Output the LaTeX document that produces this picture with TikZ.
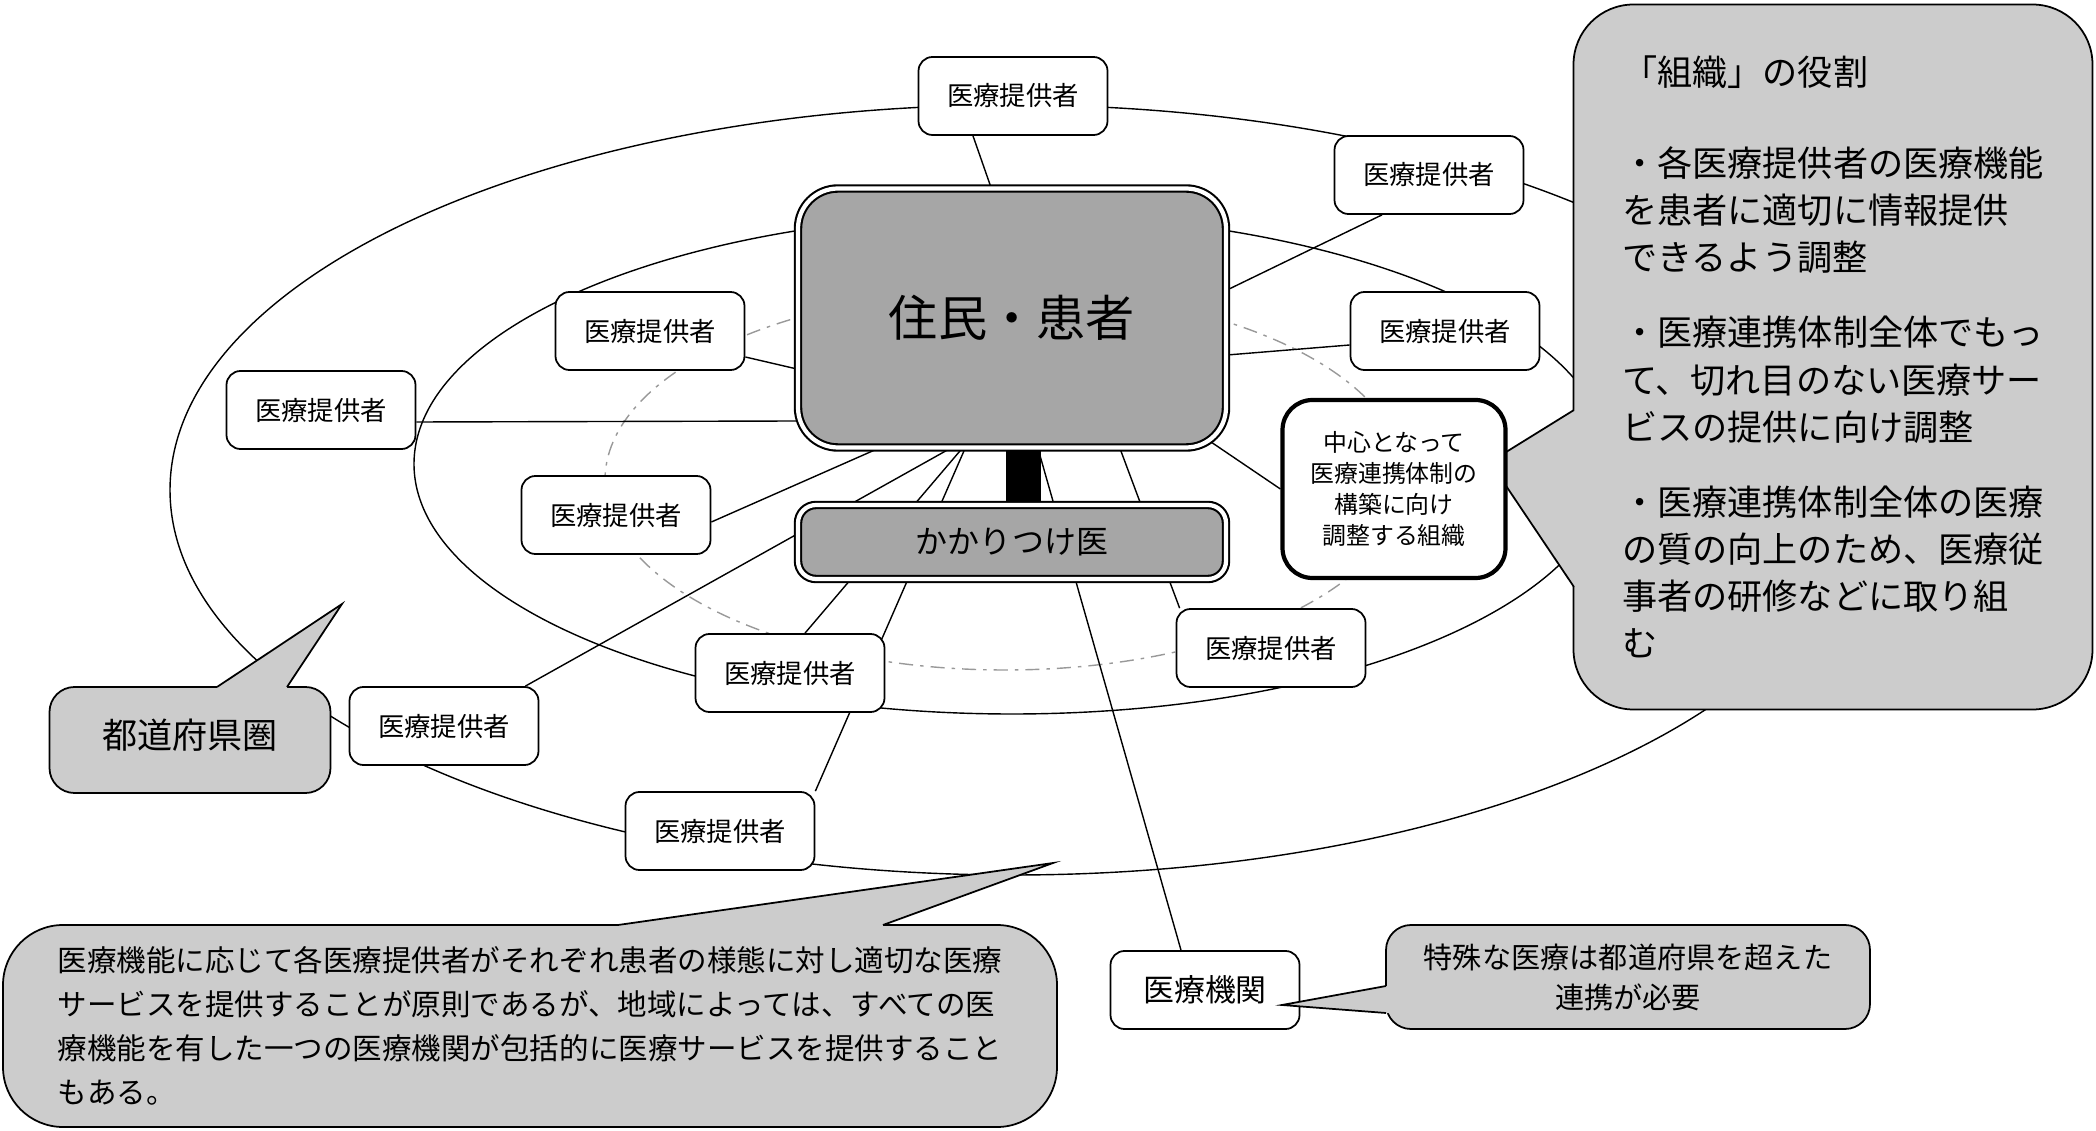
\documentclass[tikz,border=0pt]{standalone}
\usepackage{fontspec}
\setmainfont{Noto Sans CJK JP}
\usetikzlibrary{backgrounds}

\begin{document}
\begin{tikzpicture}[x=0.1mm, y=-0.1mm, line width=0.5pt,
    prov/.style={draw, fill=white, rounded corners=1.4mm, minimum width=18.9mm,
      minimum height=7.8mm, inner sep=0pt, font=\fontsize{7.5}{9}\selectfont},
    hub/.style={draw, double, double distance=1.2pt, line width=0.6pt, fill=black!35},
    org/.style={draw, fill=white, line width=1.2pt, rounded corners=3mm,
      minimum width=22.3mm, minimum height=17.8mm, align=center,
      font=\fontsize{6.8}{8.8}\selectfont},
    bubble/.style={draw, fill=black!20},
    link/.style={line width=0.4pt}]

  \useasboundingbox (0,0) rectangle (2096,1131);

  \node[bubble, rounded corners=6mm, minimum width=51.9mm, minimum height=70.5mm,
    align=left, font=\fontsize{10}{13.4}\selectfont] (R) at (1833,357)
    {「組織」の役割\\[12.5pt]・各医療提供者の医療機能\\を患者に適切に情報提供\\できるよう調整\\[8pt]%
     ・医療連携体制全体でもっ\\て、切れ目のない医療サー\\ビスの提供に向け調整\\[8pt]%
     ・医療連携体制全体の医療\\の質の向上のため、医療従\\事者の研修などに取り組\\む};
  \fill[black!20] (1574,410) -- (1490,462) -- (1574,587) -- (1590,587) -- (1590,410) -- cycle;
  \draw (1574,410) -- (1490,462) -- (1574,587);

  \node[bubble, rounded corners=2.5mm, minimum width=28.1mm, minimum height=10.6mm,
    font=\fontsize{10}{12}\selectfont] (T) at (190,740) {\raisebox{1.3mm}{都道府県圏}};
  \fill[black!20] (217,687) -- (342,604) -- (287,687) -- (287,700) -- (217,700) -- cycle;
  \draw (217,687) -- (342,604) -- (287,687);

  \node[bubble, rounded corners=6mm, minimum width=105.4mm, minimum height=20.2mm,
    align=left, font=\fontsize{8.4}{12.5}\selectfont] (B) at (530,1026)
    {医療機能に応じて各医療提供者がそれぞれ患者の様態に対し適切な医療\\%
     サービスを提供することが原則であるが、地域によっては、すべての医\\%
     療機能を有した一つの医療機関が包括的に医療サービスを提供すること\\%
     もある。};
  \fill[black!20] (618,925) -- (1053,863) -- (883,925) -- (883,940) -- (618,940) -- cycle;
  \draw (618,925) -- (1053,863) -- (883,925);

  \node[hub, rounded corners=4mm, minimum width=42.8mm, minimum height=25.9mm,
    font=\fontsize{14}{16}\selectfont] (J) at (1012,318) {住民・患者};
  \node[hub, rounded corners=1.8mm, minimum width=42.8mm, minimum height=7.4mm,
    font=\fontsize{9.1}{11}\selectfont] (K) at (1012,542) {かかりつけ医};
  \node[org] (C) at (1394,489) {中心となって\\医療連携体制の\\構築に向け\\調整する組織};

  \node[prov] (P1) at (1013,96) {医療提供者};
  \node[prov] (P2) at (1429,175) {医療提供者};
  \node[prov] (P3) at (650,331) {医療提供者};
  \node[prov] (P4) at (1445,331) {医療提供者};
  \node[prov] (P5) at (321,410) {医療提供者};
  \node[prov] (P6) at (616,515) {医療提供者};
  \node[prov] (P7) at (1271,648) {医療提供者};
  \node[prov] (P8) at (790,673) {医療提供者};
  \node[prov] (P9) at (444,726) {医療提供者};
  \node[prov] (P10) at (720,831) {医療提供者};
  \node[prov, font=\fontsize{8.8}{10}\selectfont] (M) at (1205,990) {医療機関};

  \node[bubble, rounded corners=2.5mm, minimum width=48.4mm, minimum height=10.4mm,
    align=center, font=\fontsize{8.3}{11.4}\selectfont] (S) at (1628,977)
    {特殊な医療は都道府県を超えた\\連携が必要};
  \fill[black!20] (1386,986) -- (1282,1005) -- (1386,1013) -- (1400,1013) -- (1400,986) -- cycle;
  \draw (1386,986) -- (1282,1005) -- (1386,1013);

  \begin{pgfonlayer}{background}
    \draw (1013,490) ellipse [x radius=84.3mm, y radius=38.5mm];
    \draw (1012,464) ellipse [x radius=59.8mm, y radius=25mm];
    \draw[black!40, line width=0.4pt, dash pattern=on 4pt off 2pt on 1pt off 2pt]
      (1005,480) ellipse [x radius=40mm, y radius=19mm];
    \draw[line width=3.5mm] ([xshift=1.1mm]J.south) -- ([xshift=1.1mm]K.north);
    \draw[link] ([xshift=-2.1mm]J.north) -- ([xshift=-4mm]P1.south);
    \draw[link] ([yshift=2.8mm]J.east) -- ([xshift=-4.7mm]P2.south);
    \draw[link] ([yshift=-3.7mm]J.east) -- ([yshift=-1.4mm]P4.west);
    \draw[link] ([shift={(-3mm,1.6mm)}]J.south east) -- (C.west);
    \draw[link] ([yshift=-5.1mm]J.west) -- ([yshift=-2.6mm]P3.east);
    \draw[link] ([yshift=-10.3mm]J.west) -- ([yshift=-1.2mm]P5.east);
    \draw[link] ([xshift=-13.4mm]J.south) -- ([yshift=-0.7mm]P6.east);
    \draw[link] ([xshift=-6.2mm]J.south) -- ([xshift=-1.4mm]P9.north east);
    \draw[link] ([xshift=-5mm]J.south) -- ([xshift=1.5mm]P8.north);
    \draw[link] ([xshift=-4.7mm]J.south) -- (P10.north east);
    \draw[link] ([xshift=2.6mm]J.south) -- ([xshift=-2.4mm]M.north);
    \draw[link] ([xshift=10.8mm]J.south) -- ([xshift=0.4mm]P7.north west);
  \end{pgfonlayer}
\end{tikzpicture}
\end{document}
